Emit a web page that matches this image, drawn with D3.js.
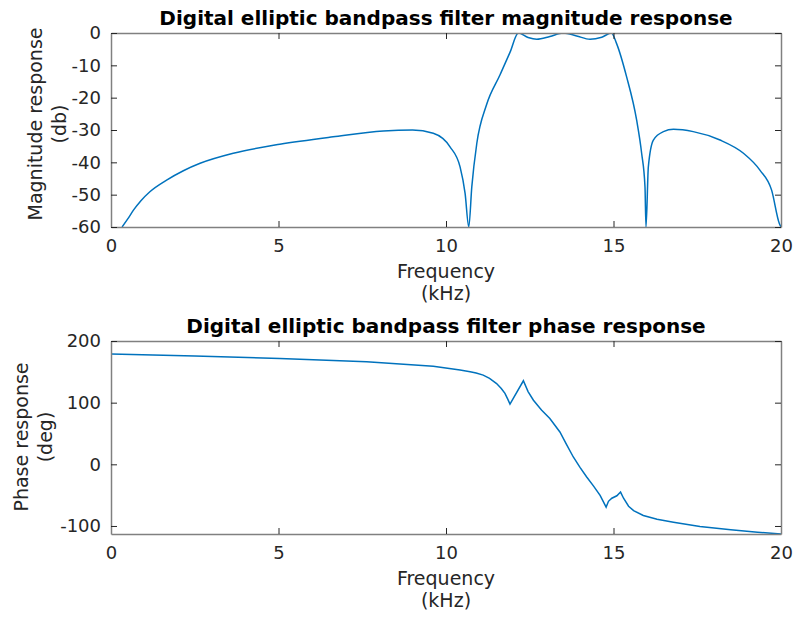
<!DOCTYPE html>
<html lang="en">
<head>
    <meta charset='utf-8'>
    <title>Elliptic bandpass filter</title>
    <style>
        body{ margin: 0; background: #fff; }
        text { font-family: "DejaVu Sans", sans-serif; }
        .tick text { fill: #262626; font-size: 18px; }
        .lbl { fill: #262626; font-size: 19px; text-anchor: middle; }
        .ttl { fill: #000; font-size: 20px; font-weight: bold; text-anchor: middle; }
    </style>
</head>
<body>
<div id="chart"></div>
<script src='https://cdn.jsdelivr.net/npm/d3@7'></script>
<script>
    var width = 800, height = 618;

    // magnitude response (kHz, dB)
    var magFreq = [0.33, 0.5, 0.67, 0.9, 1.16, 1.66, 2.16, 2.66, 3.65, 5.04, 6.63, 8.13, 9.0,
        9.62, 10.12, 10.42, 10.57, 10.68,
        10.77, 10.92, 11.21, 11.61, 11.91, 12.16,
        12.45, 12.71, 13.1, 13.5, 13.9, 14.3, 14.65, 14.94,
        15.09, 15.39, 15.69, 15.84, 15.94, 15.97,
        16.04, 16.19, 16.49, 16.79, 17.38, 18.18, 18.88, 19.37, 19.72, 19.95, 20];
    var magDb = [-60, -57.5, -54.8, -51.8, -49.1, -45.5, -42.6, -40.3, -37.2, -34.4, -32.1, -30.3, -30.0,
        -31, -35.2, -41.4, -49.6, -60,
        -47.6, -34.1, -22.2, -13.0, -6.0, 0,
        -1.4, -1.95, -1.1, 0, -0.9, -1.95, -1.3, 0,
        -3.2, -13.5, -26.9, -37.2, -47.6, -60,
        -41.4, -33.1, -30.5, -29.8, -30.5, -33.1, -37.2, -42.4, -48.6, -58.9, -60];

    // phase response (kHz, deg)
    var phFreq = [0, 2.5, 5.04, 7.63, 9.62, 10.42, 10.72, 10.9, 11.11, 11.3, 11.51, 11.65, 11.76, 11.85, 11.91,
        12.31, 12.45, 12.61, 12.85, 13.1, 13.4, 13.6, 13.8, 14.0, 14.2, 14.4, 14.6, 14.78,
        14.85, 14.95, 15.1, 15.21, 15.3, 15.45, 15.6, 15.89, 16.3, 16.79, 17.58, 18.5, 19.3, 20];
    var phDeg = [178.9, 175.5, 171.8, 166.4, 159, 152.8, 150, 148, 144.7, 139.5, 131, 123, 115, 105, 97.6,
        135.5, 118, 104, 88, 74.3, 52.5, 32, 11.9, -5, -20.6, -35, -50.4, -69.4,
        -60, -55, -51, -45, -55, -68, -75, -82.9, -89, -93.8, -100.8, -106, -110, -113];

    var xTicks = [0, 5, 10, 15, 20];
    var magTicks = [0, -10, -20, -30, -40, -50, -60];
    var phTicks = [200, 100, 0, -100];

    var svg = d3.select("#chart").append("svg")
        .attr("width", width).attr("height", height);

    function fmt(d) { return String(d); }

    function panel(cfg) {
        var x = d3.scaleLinear().domain([0, 20]).range([111, 781]);
        var y = d3.scaleLinear().domain(cfg.yDomain).range([cfg.bottom, cfg.top]);
        var g = svg.append("g");

        g.append("defs").append("clipPath").attr("id", cfg.id)
            .append("rect").attr("x", 111).attr("y", cfg.top)
            .attr("width", 670).attr("height", cfg.bottom - cfg.top);

        var line = d3.line()
            .x(function(d) { return x(d[0]); })
            .y(function(d) { return y(d[1]); })
            .curve(cfg.curve);
        g.append("path")
            .datum(d3.zip(cfg.xs, cfg.ys))
            .attr("clip-path", "url(#" + cfg.id + ")")
            .attr("fill", "none")
            .attr("stroke", "#0072BD")
            .attr("stroke-width", 1.5)
            .attr("d", line);

        // axes, ticks inside on all four sides
        var axes = [
            d3.axisBottom(x).tickValues(xTicks).tickSizeInner(-6).tickSizeOuter(0).tickPadding(12).tickFormat(fmt),
            d3.axisTop(x).tickValues(xTicks).tickSizeInner(-6).tickSizeOuter(0).tickFormat(""),
            d3.axisLeft(y).tickValues(cfg.yTicks).tickSizeInner(-6).tickSizeOuter(0).tickPadding(10).tickFormat(fmt),
            d3.axisRight(y).tickValues(cfg.yTicks).tickSizeInner(-6).tickSizeOuter(0).tickFormat("")
        ];
        var pos = ["translate(0," + cfg.bottom + ")", "translate(0," + cfg.top + ")",
            "translate(111,0)", "translate(781,0)"];
        axes.forEach(function(a, i) {
            var ag = g.append("g").attr("transform", pos[i]).call(a);
            ag.selectAll(".domain").attr("stroke", "#808080").attr("stroke-width", 1.5);
            ag.selectAll(".tick line").attr("stroke", "#262626");
            ag.selectAll(".tick text").attr("font-family", null).attr("font-size", null);
        });

        g.append("text").attr("class", "ttl").attr("x", 446).attr("y", cfg.top - 8).text(cfg.title);
        g.append("text").attr("class", "lbl").attr("x", 446).attr("y", cfg.bottom + 51).text("Frequency");
        g.append("text").attr("class", "lbl").attr("x", 446).attr("y", cfg.bottom + 73).text("(kHz)");
        cfg.yLabel.forEach(function(t, i) {
            g.append("text").attr("class", "lbl")
                .attr("transform", "translate(" + (cfg.yLabelX + i * 24) + "," + cfg.yLabelY + ") rotate(-90)")
                .text(t);
        });
    }

    panel({
        id: "clipMag", top: 33, bottom: 227, yDomain: [-60, 0], yTicks: magTicks,
        xs: magFreq, ys: magDb, curve: d3.curveMonotoneX,
        title: "Digital elliptic bandpass filter magnitude response",
        yLabel: ["Magnitude response", "(db)"], yLabelX: 42, yLabelY: 124
    });
    panel({
        id: "clipPh", top: 341, bottom: 534, yDomain: [-113, 200], yTicks: phTicks,
        xs: phFreq, ys: phDeg, curve: d3.curveLinear,
        title: "Digital elliptic bandpass filter phase response",
        yLabel: ["Phase response", "(deg)"], yLabelX: 28, yLabelY: 437
    });
</script>
</body>
</html>
